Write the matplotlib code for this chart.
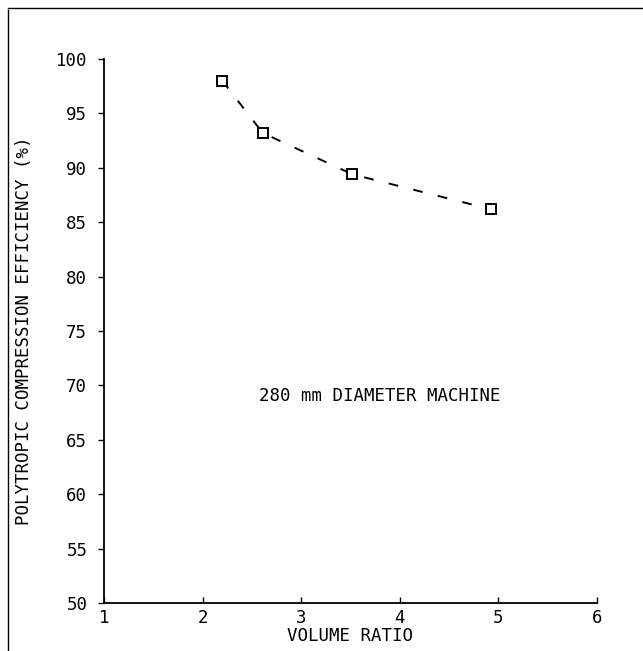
import matplotlib
matplotlib.use("Agg")
import matplotlib.pyplot as plt
from matplotlib.lines import Line2D

volume_ratio = [2.2, 2.61, 3.52, 4.92]
efficiency = [98.0, 93.2, 89.4, 86.2]
x_ticks = [1, 2, 3, 4, 5, 6]
y_ticks = [50, 55, 60, 65, 70, 75, 80, 85, 90, 95, 100]

plt.rcParams['font.family'] = ['DejaVu Sans Mono']
FS = 12.5

fig = plt.figure(figsize=(6.43, 6.51), dpi=100)
ax = fig.add_axes([104/643, 1-603/651, (597-104)/643, (603-59)/651])

ax.plot(volume_ratio, efficiency, color='black', linestyle=(0, (5, 8)), linewidth=1.4)
ax.plot(volume_ratio, efficiency, linestyle='none', marker='s', markersize=7.5,
        markerfacecolor='white', markeredgecolor='black', markeredgewidth=1.4)

ax.set_xlim(1, 6)
ax.set_ylim(50, 100)
ax.set_xticks(x_ticks)
ax.set_yticks(y_ticks)
ax.set_xticklabels([str(v) for v in x_ticks], fontsize=FS)
ax.set_yticklabels([str(v) for v in y_ticks], fontsize=FS)
ax.tick_params(axis='x', direction='in', length=4, width=1, pad=4)
ax.tick_params(axis='y', direction='out', length=4, width=1, pad=8)
for s in ['top', 'right']:
    ax.spines[s].set_visible(False)
for s in ['left', 'bottom']:
    ax.spines[s].set_linewidth(1.3)

ax.set_xlabel('VOLUME RATIO', fontsize=FS, va='center')
ax.xaxis.set_label_coords((350-104)/493, -(636-603)/544)
ax.set_ylabel('POLYTROPIC COMPRESSION EFFICIENCY (%)', fontsize=FS, va='center')
ax.yaxis.set_label_coords(-(104-24)/493, 0.5)
ax.text(3.80, 69.0, '280 mm DIAMETER MACHINE', fontsize=FS, ha='center', va='center')

# scanned page border
fig.add_artist(Line2D([8/643, 8/643], [0, 1-10/651], transform=fig.transFigure, color='black', lw=1))
fig.add_artist(Line2D([8/643, 1], [1-8/651, 1-8/651], transform=fig.transFigure, color='black', lw=1))

fig.savefig('out.png', dpi=100)
